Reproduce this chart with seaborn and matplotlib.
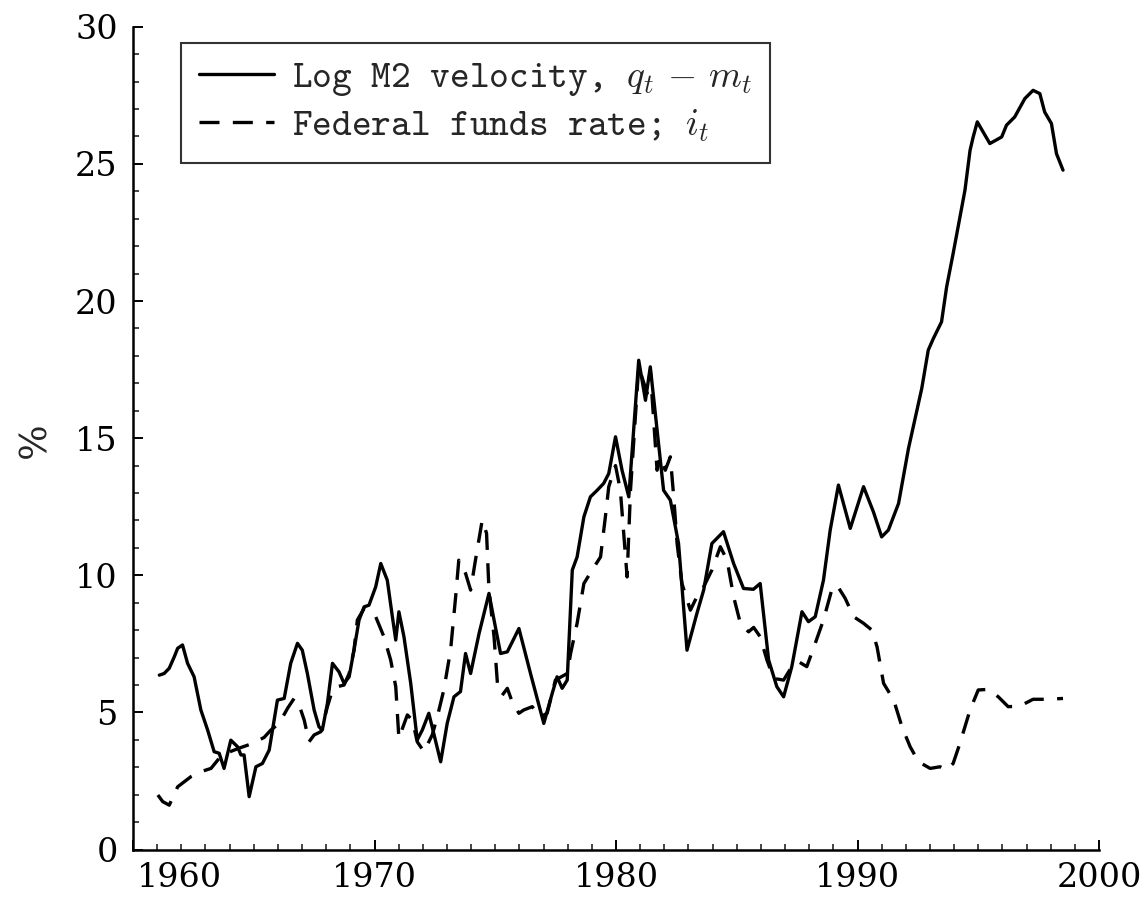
import os
import numpy as np
import pandas as pd
import matplotlib
matplotlib.use("Agg")
import matplotlib.pyplot as plt
import matplotlib.transforms as mtransforms
from matplotlib import font_manager as fm
from matplotlib.ticker import MultipleLocator
import seaborn as sns

# ---- data ----
vel_year = [1961.09, 1961.29, 1961.50, 1961.71, 1961.85, 1962.05, 1962.26, 1962.53, 1962.81,
            1963.09, 1963.36, 1963.57, 1963.77, 1964.05, 1964.33, 1964.47, 1964.60, 1964.81,
            1965.09, 1965.36, 1965.64, 1965.98, 1966.26, 1966.53, 1966.81, 1967.01, 1967.22,
            1967.50, 1967.70, 1967.84, 1968.05, 1968.26, 1968.53, 1968.74, 1968.95, 1969.15,
            1969.36, 1969.57, 1969.77, 1970.05, 1970.26, 1970.53, 1970.74, 1970.88, 1971.01,
            1971.22, 1971.50, 1971.77, 1971.98, 1972.25, 1972.74, 1973.01, 1973.29, 1973.56,
            1973.77, 1973.98, 1974.33, 1974.74, 1974.95, 1975.22, 1975.50, 1975.98, 1976.46,
            1977.01, 1977.36, 1977.56, 1977.77, 1977.98, 1978.19, 1978.39, 1978.67, 1978.94,
            1979.22, 1979.49, 1979.70, 1979.98, 1980.25, 1980.53, 1980.73, 1980.94, 1981.22,
            1981.42, 1981.70, 1981.97, 1982.25, 1982.59, 1982.94, 1983.35, 1983.63, 1983.97,
            1984.45, 1984.87, 1985.28, 1985.69, 1985.97, 1986.32, 1986.66, 1986.94, 1987.28,
            1987.70, 1987.97, 1988.25, 1988.59, 1988.87, 1989.21, 1989.70, 1990.25, 1990.66,
            1991.00, 1991.28, 1991.70, 1992.11, 1992.66, 1992.93, 1993.14, 1993.48, 1993.69,
            1993.96, 1994.24, 1994.45, 1994.66, 1994.79, 1994.96, 1995.48, 1995.97, 1996.17,
            1996.51, 1996.93, 1997.27, 1997.55, 1997.75, 1998.03, 1998.24, 1998.51]
vel_value = [6.36, 6.42, 6.61, 7.03, 7.34, 7.46, 6.79, 6.30, 5.09,
             4.36, 3.57, 3.51, 2.96, 3.99, 3.75, 3.45, 3.45, 1.93,
             3.02, 3.14, 3.63, 5.45, 5.51, 6.79, 7.52, 7.27, 6.42,
             5.09, 4.48, 4.36, 5.33, 6.79, 6.48, 6.06, 6.30, 7.27,
             8.37, 8.85, 8.91, 9.58, 10.43, 9.82, 8.49, 7.64, 8.67,
             7.76, 6.06, 4.00, 4.36, 4.97, 3.20, 4.60, 5.57, 5.76,
             7.15, 6.42, 7.88, 9.34, 8.37, 7.15, 7.21, 8.06, 6.42,
             4.60, 5.70, 6.30, 5.88, 6.18, 10.19, 10.67, 12.13, 12.86,
             13.10, 13.35, 13.71, 15.05, 13.83, 12.86, 15.29, 17.84, 16.38,
             17.60, 15.29, 13.10, 12.74, 11.16, 7.27, 8.61, 9.46, 11.16,
             11.59, 10.43, 9.52, 9.49, 9.70, 6.91, 5.94, 5.57, 6.67,
             8.67, 8.31, 8.49, 9.82, 11.65, 13.29, 11.71, 13.23, 12.31,
             11.40, 11.65, 12.62, 14.62, 16.81, 18.21, 18.63, 19.24, 20.51,
             21.73, 23.06, 24.04, 25.49, 25.98, 26.53, 25.74, 25.98, 26.41,
             26.71, 27.38, 27.68, 27.56, 26.89, 26.47, 25.37, 24.77]

ff_year = [1961.03, 1961.23, 1961.50, 1961.85, 1962.40, 1962.81, 1963.23, 1963.57, 1963.85,
           1964.40, 1964.95, 1965.43, 1965.71, 1966.05, 1966.40, 1966.67, 1966.88, 1967.09,
           1967.29, 1967.50, 1967.78, 1968.05, 1968.26, 1968.47, 1968.74, 1968.95, 1969.15,
           1969.29, 1969.57, 1969.77, 1970.05, 1970.39, 1970.67, 1970.88, 1971.01, 1971.36,
           1971.57, 1971.77, 1972.05, 1972.39, 1972.60, 1972.87, 1973.15, 1973.36, 1973.49,
           1973.77, 1973.98, 1974.18, 1974.46, 1974.64, 1974.74, 1974.95, 1975.09, 1975.29,
           1975.50, 1975.70, 1975.98, 1976.18, 1976.53, 1976.87, 1977.15, 1977.49, 1977.98,
           1978.12, 1978.39, 1978.67, 1979.01, 1979.36, 1979.56, 1979.70, 1979.98, 1980.18,
           1980.46, 1980.60, 1980.94, 1981.29, 1981.42, 1981.70, 1981.84, 1982.04, 1982.25,
           1982.39, 1982.53, 1982.73, 1983.08, 1983.35, 1983.63, 1983.97, 1984.32, 1984.60,
           1984.87, 1985.15, 1985.49, 1985.70, 1985.97, 1986.25, 1986.53, 1986.94, 1987.28,
           1987.56, 1987.90, 1988.25, 1988.59, 1988.93, 1989.15, 1989.49, 1989.84, 1990.25,
           1990.60, 1990.81, 1991.08, 1991.50, 1991.84, 1992.18, 1992.53, 1993.01, 1993.42,
           1993.69, 1993.96, 1994.24, 1994.66, 1995.00, 1995.41, 1995.83, 1996.24, 1996.72,
           1997.27, 1997.82, 1998.51]
ff_value = [1.99, 1.75, 1.62, 2.29, 2.66, 2.84, 2.96, 3.33, 3.51,
            3.70, 3.87, 4.09, 4.36, 4.60, 5.15, 5.51, 5.27, 4.72,
            3.93, 4.18, 4.30, 5.21, 5.82, 5.94, 6.00, 6.42, 7.27,
            8.37, 8.79, 8.67, 8.49, 7.76, 6.91, 5.94, 4.06, 4.91,
            4.72, 3.93, 3.57, 4.18, 4.84, 5.82, 7.27, 9.22, 10.55,
            10.07, 9.46, 10.55, 12.01, 11.53, 9.46, 7.76, 6.06, 5.63,
            5.88, 5.39, 4.97, 5.09, 5.21, 4.84, 4.97, 6.18, 6.42,
            7.15, 8.25, 9.70, 10.19, 10.67, 12.13, 13.23, 14.00, 13.10,
            9.94, 13.10, 17.60, 16.63, 17.48, 13.83, 14.32, 13.83, 14.32,
            12.86, 11.16, 9.70, 8.73, 9.22, 9.58, 10.19, 11.04, 10.55,
            9.22, 8.25, 7.94, 8.10, 7.76, 6.91, 6.24, 6.18, 6.67,
            6.85, 6.67, 7.52, 8.37, 9.46, 9.64, 9.16, 8.49, 8.25,
            8.00, 7.39, 6.06, 5.45, 4.48, 3.75, 3.20, 2.96, 3.02,
            2.90, 3.14, 3.87, 5.09, 5.82, 5.84, 5.57, 5.21, 5.23,
            5.48, 5.48, 5.51]

series_labels = [r"Log M2 velocity, $q_t\,-\,m_t$", r"Federal funds rate; $i_t$"]
x_ticks = [1960, 1970, 1980, 1990, 2000]
y_ticks = [0, 5, 10, 15, 20, 25, 30]

# ---- fonts ----
tt_path = os.path.join(matplotlib.get_data_path(), "fonts", "ttf", "cmtt10.ttf")
if os.path.exists(tt_path):
    fm.fontManager.addfont(tt_path)

sns.set_theme(style="ticks")
plt.rcParams["font.family"] = ["DejaVu Serif"]
plt.rcParams["mathtext.fontset"] = "cm"
plt.rcParams["xtick.direction"] = "in"
plt.rcParams["ytick.direction"] = "in"
legend_family = ["cmtt10", "DejaVu Serif"]

fig = plt.figure(figsize=(11.47, 8.99), dpi=100)
ax = fig.add_axes([133 / 1147, 49.4 / 899, 966 / 1147, 822.9 / 899])

df_v = pd.DataFrame({"year": vel_year, "value": vel_value})
df_f = pd.DataFrame({"year": ff_year, "value": ff_value})

sns.lineplot(data=df_v, x="year", y="value", ax=ax, color="black", lw=2.4,
             label=series_labels[0], sort=False)
sns.lineplot(data=df_f, x="year", y="value", ax=ax, color="black", lw=2.4,
             label=series_labels[1], sort=False)
ax.lines[1].set_dashes([6, 4])

ax.set_xlim(1960, 2000)
ax.set_ylim(0, 30)
ax.set_xticks(x_ticks)
ax.set_yticks(y_ticks)
ax.xaxis.set_minor_locator(MultipleLocator(1))
ax.yaxis.set_minor_locator(MultipleLocator(1))
ax.set_xticklabels([str(t) for t in x_ticks])
ax.set_yticklabels([str(t) for t in y_ticks])

ax.tick_params(axis="both", which="major", direction="in", length=7, width=1.4,
               labelsize=24, colors="black")
ax.tick_params(axis="both", which="minor", direction="in", length=4.5, width=1.2)
ax.tick_params(axis="x", which="major", pad=9)
ax.tick_params(axis="y", which="major", pad=11)

for side in ["top", "right"]:
    ax.spines[side].set_visible(False)
for side in ["left", "bottom"]:
    ax.spines[side].set_linewidth(1.8)
    ax.spines[side].set_color("black")

ax.set_xlabel("")
ax.set_ylabel("%", fontsize=27, rotation=90)
ax.yaxis.set_label_coords(-0.082, 0.498)

# the first year label is drawn shifted right in the reference
first = ax.get_xticklabels()[0]
first.set_transform(first.get_transform() +
                    mtransforms.ScaledTranslation(0.46, 0, fig.dpi_scale_trans))

leg = ax.legend(loc="upper left", bbox_to_anchor=(0.0497, 0.980), borderaxespad=0,
                prop={"family": legend_family, "size": 27},
                frameon=True, fancybox=False, handlelength=2.0,
                handletextpad=0.48, borderpad=0.48, labelspacing=0.26)
leg.get_frame().set_edgecolor("black")
leg.get_frame().set_linewidth(1.5)
for h in leg.get_lines():
    h.set_linewidth(2.4)
leg.get_lines()[1].set_dashes([6, 4])

fig.savefig("out.png", dpi=100)
